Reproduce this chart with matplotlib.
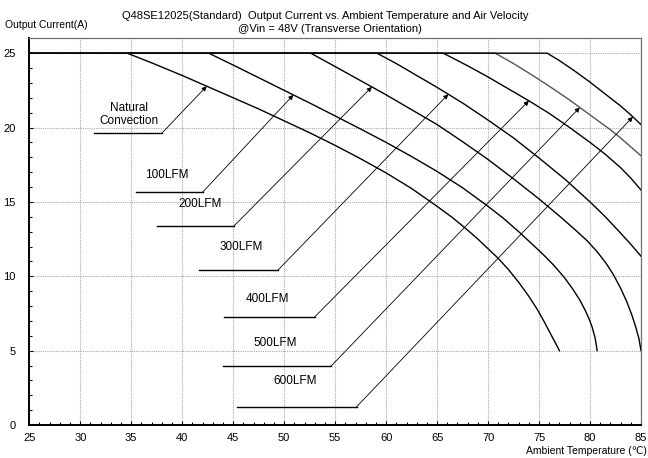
import matplotlib
matplotlib.use("Agg")
import matplotlib.pyplot as plt
import numpy as np

plt.rcParams['font.family'] = ['Liberation Sans', 'DejaVu Sans']

# ---- data ----
nc_temp = [25, 34.6, 37, 40, 42.5, 45, 47.5, 50, 52.5, 55, 57.5, 60, 62.5, 65, 66.5, 68, 69,
           70, 71, 72, 73, 74, 74.8, 75.5, 76, 76.5, 77]
nc_curr = [25, 25, 24.35, 23.5, 22.75, 22.0, 21.25, 20.45, 19.65, 18.8, 17.9, 16.95, 15.9, 14.7,
           13.95, 13.1, 12.5, 11.85, 11.2, 10.45, 9.6, 8.65, 7.8, 6.95, 6.3, 5.65, 5.0]

lfm100_temp = [25, 42.6, 45, 47.5, 50, 52.5, 55, 57.5, 60, 62.5, 65, 67.5, 70, 71.5, 73, 74.5,
               75.5, 76.5, 77.5, 78.3, 79, 79.5, 79.9, 80.2, 80.5, 80.7]
lfm100_curr = [25, 25, 24.2, 23.35, 22.5, 21.65, 20.78, 19.9, 19.0, 18.05, 17.05, 15.95, 14.7,
               13.9, 13.0, 12.05, 11.4, 10.7, 9.9, 9.15, 8.4, 7.75, 7.15, 6.6, 5.85, 5.0]

lfm200_temp = [25, 52.6, 55, 57.5, 60, 62.5, 65, 67.5, 70, 72.5, 75, 77, 78.5, 79.7, 80.7,
               81.6, 82.3, 83, 83.6, 84.1, 84.5, 84.8, 85]
lfm200_curr = [25, 25, 24.1, 23.15, 22.2, 21.2, 20.2, 19.05, 17.85, 16.55, 15.2, 14.05, 13.15,
               12.4, 11.65, 10.85, 10.1, 9.2, 8.3, 7.4, 6.55, 5.8, 5.0]

lfm300_temp = [25, 59.1, 61, 63, 65, 67.5, 70, 72.5, 75, 77.5, 80, 81.5, 83, 84, 85]
lfm300_curr = [25, 25, 24.3, 23.5, 22.7, 21.65, 20.5, 19.3, 17.95, 16.55, 15.0, 14.0, 12.9,
               12.15, 11.35]

lfm400_temp = [25, 65.6, 68, 70, 72, 74, 76, 78, 80, 81.5, 83, 84, 85]
lfm400_curr = [25, 25, 24.15, 23.4, 22.6, 21.8, 20.95, 20.0, 19.0, 18.2, 17.3, 16.6, 15.8]

lfm500_temp = [25, 70.7, 72.5, 74.5, 76.5, 78, 79, 80, 81, 82, 83, 84, 85]
lfm500_curr = [25, 25, 24.3, 23.45, 22.55, 21.85, 21.35, 20.85, 20.35, 19.85, 19.3, 18.7, 18.1]

lfm600_temp = [25, 75.8, 77, 78.5, 80, 81.5, 83, 84, 85]
lfm600_curr = [25, 25, 24.5, 23.8, 23.05, 22.25, 21.45, 20.85, 20.2]

curve_labels = ["Natural\nConvection", "100LFM", "200LFM", "300LFM", "400LFM", "500LFM", "600LFM"]
x_ticks = [25, 30, 35, 40, 45, 50, 55, 60, 65, 70, 75, 80, 85]
y_ticks = [0, 5, 10, 15, 20, 25]

title_line1 = "Q48SE12025(Standard)  Output Current vs. Ambient Temperature and Air Velocity"
title_line2 = "@Vin = 48V (Transverse Orientation)"
y_title = "Output Current(A)"
x_title = "Ambient Temperature (\u2103)"

curves = [(nc_temp, nc_curr), (lfm100_temp, lfm100_curr), (lfm200_temp, lfm200_curr),
          (lfm300_temp, lfm300_curr), (lfm400_temp, lfm400_curr), (lfm500_temp, lfm500_curr),
          (lfm600_temp, lfm600_curr)]

# ---- figure ----
fig = plt.figure(figsize=(6.48, 4.58), dpi=100)
W, H = 648, 458
ax = fig.add_axes([29.3 / W, 1 - 425 / H, (641 - 29.3) / W, (425 - 38.3) / H])
ax.set_xlim(25, 85)
ax.set_ylim(0, 26)

ax.set_xticks(x_ticks)
ax.set_yticks(y_ticks)
ax.set_xticks(np.arange(25, 86, 1), minor=True)
ax.set_yticks(np.arange(0, 26, 1), minor=True)
ax.tick_params(axis='both', which='both', direction='in', labelsize=8, colors='black')
ax.tick_params(axis='both', which='major', length=3, width=0.8)
ax.tick_params(axis='both', which='minor', length=2.5, width=0.8)
ax.tick_params(axis='x', which='major', pad=6)
ax.tick_params(axis='y', which='major', pad=10)

ax.grid(True, which='major', linestyle=(0, (1, 1)), color='#a8a8a8', linewidth=0.8)
ax.set_axisbelow(True)

for side in ['left', 'bottom']:
    ax.spines[side].set_color('black')
    ax.spines[side].set_linewidth(1.4)
for side in ['top', 'right']:
    ax.spines[side].set_color('#707070')
    ax.spines[side].set_linewidth(0.9)

line_colors = ['black', 'black', 'black', 'black', 'black', '#555555', 'black']
for (t, c), col in zip(curves, line_colors):
    ax.plot(t, c, color=col, linewidth=1.0, solid_joinstyle='round', zorder=3)

# ---- labels with leader lines ----
label_text_pos = [(34.8, 20.87), (38.5, 16.8), (41.8, 14.86), (45.8, 12.0),
                  (48.4, 8.47), (49.1, 5.52), (51.1, 2.97)]
leader_y = [19.62, 15.65, 13.4, 10.42, 7.27, 3.96, 1.22]
leader_x0 = [31.3, 35.5, 37.5, 41.6, 44.1, 44.0, 45.4]
leader_x1 = [38.0, 42.0, 45.1, 49.4, 53.0, 54.6, 57.1]
tip_x = [42.4, 50.9, 58.6, 66.1, 74.0, 79.0, 84.2]

for i, (t, c) in enumerate(curves):
    tx, ty = label_text_pos[i]
    ax.text(tx, ty, curve_labels[i], ha='center', va='center', fontsize=8.5,
            linespacing=1.15, zorder=5)
    ax.plot([leader_x0[i], leader_x1[i]], [leader_y[i], leader_y[i]],
            color='black', linewidth=1.0, zorder=4)
    tip_y = float(np.interp(tip_x[i], t, c))
    ax.annotate('', xy=(tip_x[i], tip_y), xytext=(leader_x1[i], leader_y[i]),
                arrowprops=dict(arrowstyle='-|>', color='black', lw=0.6,
                                mutation_scale=7, shrinkA=0, shrinkB=0),
                zorder=4)

# ---- titles ----
fig.text(325 / W, 1 - 16 / H, title_line1, ha='center', va='center', fontsize=8)
fig.text(330 / W, 1 - 29.5 / H, title_line2, ha='center', va='center', fontsize=8)
fig.text(5 / W, 1 - 25 / H, y_title, ha='left', va='center', fontsize=7.5)
fig.text(647 / W, 1 - 451 / H, x_title, ha='right', va='center', fontsize=7.5)

fig.savefig("out.png", dpi=100)
